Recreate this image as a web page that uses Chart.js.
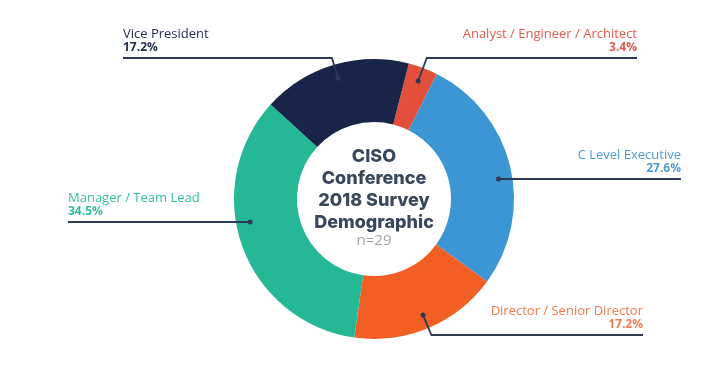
<!DOCTYPE html>
<html>
<head>
<meta charset="utf-8">
<script src="https://cdn.jsdelivr.net/npm/chart.js@4"></script>
<style>
  html, body { margin: 0; padding: 0; background: #fff; }
  #wrap { width: 716px; height: 387px; }
</style>
</head>
<body>
<div id="wrap"><canvas id="myChart" width="716" height="387"></canvas></div>
<script>
// datos del grafico
const categorias = ["Analyst / Engineer / Architect", "C Level Executive", "Director / Senior Director", "Manager / Team Lead", "Vice President"];
const porcentajes = [3.4, 27.6, 17.2, 34.5, 17.2];
const colores = ["#e34f3b", "#3c96d4", "#f15f25", "#25b897", "#182548"];
const textoCentro = ["CISO", "Conference", "2018 Survey", "Demographic"];
const muestra = "n=29";

// donde va cada etiqueta (lado, x final de la linea, y de la linea, tipo)
const etiquetas = [
  { side: "right", endX: 637, lineY: 58, elbow: true, color: "#e05a4c" },
  { side: "right", endX: 681, lineY: 179, elbow: false, color: "#4c9ad4" },
  { side: "right", endX: 643, lineY: 335, elbow: true, color: "#f27a4a" },
  { side: "left", endX: 68, lineY: 222, elbow: false, color: "#33bf9c" },
  { side: "left", endX: 123, lineY: 58, elbow: true, color: "#1f2b4d" },
];

const lineaColor = "#2c3957";

const etiquetasPlugin = {
  id: "etiquetas",
  afterDraw(chart) {
    const ctx = chart.ctx;
    const meta = chart.getDatasetMeta(0);
    ctx.save();
    meta.data.forEach((arc, i) => {
      const cfg = etiquetas[i];
      const mid = (arc.startAngle + arc.endAngle) / 2;
      const r = arc.outerRadius * 0.9;
      let dx, dy, ex, ey;
      if (cfg.elbow) {
        dx = arc.x + Math.cos(mid) * r;
        dy = arc.y + Math.sin(mid) * r;
        const t = (cfg.lineY - dy) / Math.sin(mid);
        ex = dx + Math.cos(mid) * t;
        ey = cfg.lineY;
      } else {
        const off = cfg.lineY - arc.y;
        const sx = Math.sqrt(r * r - off * off);
        dx = arc.x + (cfg.side === "right" ? sx : -sx);
        dy = cfg.lineY;
        ex = dx;
        ey = dy;
      }
      // linea
      ctx.strokeStyle = lineaColor;
      ctx.lineWidth = 1.8;
      ctx.beginPath();
      ctx.moveTo(dx, dy);
      ctx.lineTo(ex, ey);
      ctx.lineTo(cfg.endX, cfg.lineY);
      ctx.stroke();
      // punto
      ctx.fillStyle = lineaColor;
      ctx.beginPath();
      ctx.arc(dx, dy, 2.5, 0, Math.PI * 2);
      ctx.fill();
      // textos
      ctx.textAlign = cfg.side === "right" ? "right" : "left";
      ctx.textBaseline = "middle";
      ctx.fillStyle = cfg.color;
      ctx.font = "13px 'Open Sans'";
      ctx.fillText(categorias[i], cfg.endX, cfg.lineY - 24);
      ctx.font = "bold 12px 'Open Sans'";
      ctx.fillText(porcentajes[i].toFixed(1) + "%", cfg.endX, cfg.lineY - 10);
    });

    // texto del centro
    const cx = meta.data[0].x;
    const cy = meta.data[0].y;
    ctx.textAlign = "center";
    ctx.textBaseline = "middle";
    ctx.fillStyle = "#38475b";
    ctx.font = "800 18px Inter";
    textoCentro.forEach((t, k) => {
      ctx.fillText(t, cx, cy - 42 + k * 21.7);
    });
    ctx.fillStyle = "#9ea3a8";
    ctx.font = "15px 'Open Sans'";
    ctx.fillText(muestra, cx, cy + 42);
    ctx.restore();
  },
};

const data = {
  labels: categorias,
  datasets: [
    {
      data: porcentajes,
      backgroundColor: colores,
      borderWidth: 0,
    },
  ],
};

const config = {
  type: "doughnut",
  data,
  options: {
    responsive: false,
    animation: false,
    rotation: 14.4,
    cutout: "55%",
    layout: { padding: { left: 234, right: 202, top: 59, bottom: 48 } },
    plugins: {
      legend: { display: false },
      tooltip: { enabled: false },
    },
  },
  plugins: [etiquetasPlugin],
};

var myChart = new Chart(document.getElementById("myChart"), config);
</script>
</body>
</html>
